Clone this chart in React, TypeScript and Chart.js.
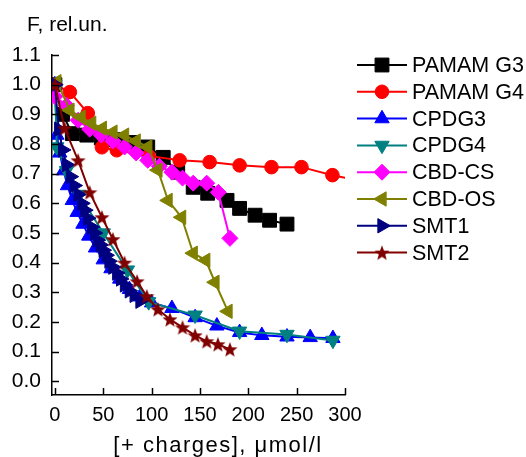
import React, { useEffect, useRef } from "react";
import { Chart, registerables } from "chart.js";

Chart.register(...registerables);

const FONT = '"Liberation Sans", Arial, Helvetica, sans-serif';

// ---- tick labels ----
const xTickValues = [0, 50, 100, 150, 200, 250, 300];
const yTickValues = [0, 0.1, 0.2, 0.3, 0.4, 0.5, 0.6, 0.7, 0.8, 0.9, 1.0, 1.1];

const yTitle = "F, rel.un.";
const xTitle = "[+ charges], \u03bcmol/l";

// ---- series ----
const seriesNames = ["PAMAM G3", "PAMAM G4", "CPDG3", "CPDG4", "CBD-CS", "CBD-OS", "SMT1", "SMT2"];

const pamamG3X = [0, 8, 18, 33, 48, 63, 78, 96, 112, 127, 143, 158, 178, 191, 207, 222, 240];
const pamamG3Y = [1.0, 0.9, 0.835, 0.83, 0.82, 0.815, 0.805, 0.79, 0.755, 0.705, 0.654, 0.634, 0.61, 0.583, 0.56, 0.543, 0.53];

const pamamG4X = [0, 15.5, 34, 48.6, 64, 97, 129, 160, 191, 224, 255, 287, 318];
const pamamG4Y = [1.0, 0.975, 0.904, 0.789, 0.779, 0.76, 0.745, 0.739, 0.728, 0.722, 0.722, 0.695, 0.675];

const cpdg3X = [0, 2, 5, 9, 13, 18, 23, 29, 35, 42, 50, 58, 67, 77, 88, 100, 121, 145, 167.5, 191, 214, 240, 264, 287.5];
const cpdg3Y = [1.0, 0.83, 0.77, 0.71, 0.66, 0.61, 0.57, 0.53, 0.49, 0.45, 0.41, 0.38, 0.345, 0.31, 0.285, 0.265, 0.246, 0.215, 0.187, 0.165, 0.155, 0.15, 0.148, 0.145];

const cpdg4X = [0, 2, 12, 25, 50, 75, 97, 145, 191, 240, 287.5];
const cpdg4Y = [1.0, 0.79, 0.71, 0.63, 0.5, 0.375, 0.268, 0.223, 0.169, 0.158, 0.138];

const cbdCsX = [0, 12, 24, 36, 48, 60, 72, 84, 96, 108, 121, 132, 143, 157, 169, 181];
const cbdCsY = [0.96, 0.93, 0.88, 0.85, 0.83, 0.81, 0.79, 0.77, 0.745, 0.725, 0.705, 0.685, 0.668, 0.668, 0.637, 0.482];

const cbdOsX = [2, 15.5, 27, 38, 49, 60, 72, 84, 96, 106.5, 117, 131, 143, 156, 165.5, 179];
const cbdOsY = [1.01, 0.914, 0.89, 0.87, 0.853, 0.84, 0.83, 0.81, 0.79, 0.712, 0.61, 0.553, 0.432, 0.408, 0.334, 0.236];

const smt1X = [0, 4, 8, 12, 16, 20, 24, 28, 31, 34, 38, 41, 44, 47, 50, 53, 56, 60, 64, 68, 72, 77, 82, 88];
const smt1Y = [1.0, 0.85, 0.78, 0.73, 0.69, 0.66, 0.63, 0.6, 0.577, 0.55, 0.52, 0.5, 0.476, 0.46, 0.442, 0.425, 0.405, 0.385, 0.365, 0.345, 0.325, 0.305, 0.29, 0.27];

const smt2X = [0, 10, 24, 36, 48.6, 60, 72, 85, 95, 106.5, 119, 132, 145, 157, 168.6, 181];
const smt2Y = [1.0, 0.853, 0.745, 0.637, 0.553, 0.479, 0.4, 0.337, 0.287, 0.243, 0.209, 0.182, 0.155, 0.135, 0.125, 0.108];

const seriesX = [pamamG3X, pamamG4X, cpdg3X, cpdg4X, cbdCsX, cbdOsX, smt1X, smt2X];
const seriesY = [pamamG3Y, pamamG4Y, cpdg3Y, cpdg4Y, cbdCsY, cbdOsY, smt1Y, smt2Y];

// ---- styles ----
const seriesColors = ["#000000", "#ff0000", "#0000ff", "#008080", "#ff00ff", "#808000", "#000080", "#800000"];
const seriesMarkers = ["rect", "circle", "triangle", "triangle", "rectRot", "triangle", "triangle", "star"];
const seriesRotation = [0, 0, 0, 180, 0, 270, 90, 0];
const seriesRadius = [9.8, 6.8, 8.3, 8.3, 8, 8.3, 8.3, 8];

function makeStar(size: number, color: string): HTMLCanvasElement {
  const c = document.createElement("canvas");
  c.width = size;
  c.height = size;
  const ctx = c.getContext("2d")!;
  const R = size / 2;
  const r = R * 0.42;
  const cx = size / 2;
  const cy = size / 2 + 0.8;
  ctx.beginPath();
  for (let i = 0; i < 10; i++) {
    const a = -Math.PI / 2 + (i * Math.PI) / 5;
    const rr = i % 2 === 0 ? R : r;
    ctx.lineTo(cx + rr * Math.cos(a), cy + rr * Math.sin(a));
  }
  ctx.closePath();
  ctx.fillStyle = color;
  ctx.fill();
  return c;
}

function drawMarker(
  ctx: CanvasRenderingContext2D,
  style: string,
  rotationDeg: number,
  radius: number,
  x: number,
  y: number,
  color: string,
  star: HTMLCanvasElement
) {
  ctx.save();
  ctx.fillStyle = color;
  ctx.strokeStyle = color;
  ctx.lineWidth = 1;
  if (style === "star") {
    ctx.drawImage(star, x - star.width / 2, y - star.height / 2);
    ctx.restore();
    return;
  }
  ctx.beginPath();
  let rad = (rotationDeg * Math.PI) / 180;
  if (style === "circle") {
    ctx.arc(x, y, radius, 0, Math.PI * 2);
  } else if (style === "rect") {
    const s = Math.SQRT1_2 * radius;
    ctx.rect(x - s, y - s, 2 * s, 2 * s);
  } else if (style === "rectRot") {
    ctx.moveTo(x - radius, y);
    ctx.lineTo(x, y - radius);
    ctx.lineTo(x + radius, y);
    ctx.lineTo(x, y + radius);
  } else if (style === "triangle") {
    ctx.moveTo(x + Math.sin(rad) * radius, y - Math.cos(rad) * radius);
    rad += (2 * Math.PI) / 3;
    ctx.lineTo(x + Math.sin(rad) * radius, y - Math.cos(rad) * radius);
    rad += (2 * Math.PI) / 3;
    ctx.lineTo(x + Math.sin(rad) * radius, y - Math.cos(rad) * radius);
  }
  ctx.closePath();
  ctx.fill();
  ctx.stroke();
  ctx.restore();
}

export default function App() {
  const canvasRef = useRef<HTMLCanvasElement | null>(null);

  useEffect(() => {
    const canvas = canvasRef.current;
    if (!canvas) return;
    const star = makeStar(16, seriesColors[7]);

    const datasets = seriesNames.map((name, i) => ({
      label: name,
      data: seriesX[i].map((x, j) => ({ x, y: seriesY[i][j] })),
      borderColor: seriesColors[i],
      backgroundColor: seriesColors[i],
      borderWidth: 2,
      pointStyle: seriesMarkers[i] === "star" ? (star as any) : seriesMarkers[i],
      pointRotation: seriesRotation[i],
      pointRadius: seriesRadius[i],
      pointBorderWidth: 1,
      pointBackgroundColor: seriesColors[i],
      pointBorderColor: seriesColors[i],
      tension: 0,
      order: seriesNames.length - i,
    }));

    const overlay = {
      id: "overlay",
      afterDraw(chart: any) {
        const { ctx, chartArea, scales } = chart;
        ctx.save();
        ctx.strokeStyle = "#000";
        ctx.lineWidth = 1.5;
        for (const v of xTickValues) {
          const px = Math.round(scales.x.getPixelForValue(v)) + 0.5;
          ctx.beginPath();
          ctx.moveTo(px, chartArea.bottom);
          ctx.lineTo(px, chartArea.bottom - 7);
          ctx.stroke();
        }
        for (const v of yTickValues) {
          const py = Math.round(scales.y.getPixelForValue(v)) + 0.5;
          ctx.beginPath();
          ctx.moveTo(chartArea.left, py);
          ctx.lineTo(chartArea.left + 7, py);
          ctx.stroke();
        }
        ctx.fillStyle = "#000";
        ctx.font = `21px ${FONT}`;
        ctx.textBaseline = "middle";
        ctx.textAlign = "left";
        ctx.fillText(yTitle, 27, 25);

        ctx.font = `22px ${FONT}`;
        ctx.textAlign = "center";
        (ctx as any).letterSpacing = "1.5px";
        ctx.fillText(xTitle, 218, 446);
        (ctx as any).letterSpacing = "0px";

        // legend
        const lx0 = 357;
        const lx1 = 407;
        chart.data.datasets.forEach((ds: any, i: number) => {
          const y = 65 + i * 26.8;
          ctx.strokeStyle = seriesColors[i];
          ctx.lineWidth = 2;
          ctx.beginPath();
          ctx.moveTo(lx0, y);
          ctx.lineTo(lx1, y);
          ctx.stroke();
          drawMarker(ctx, seriesMarkers[i], seriesRotation[i], seriesRadius[i], (lx0 + lx1) / 2, y, seriesColors[i], star);
          ctx.fillStyle = "#000";
          ctx.textAlign = "left";
          ctx.font = `21.5px ${FONT}`;
          ctx.fillText(ds.label, 412, y + 1);
        });
        ctx.restore();
      },
    };

    const chart = new Chart(canvas, {
      type: "line",
      data: { datasets: datasets as any },
      options: {
        animation: false,
        responsive: false,
        maintainAspectRatio: false,
        layout: { padding: { top: 55, right: 181, left: 0, bottom: 0 } },
        plugins: {
          legend: { display: false },
          title: { display: false },
          tooltip: { enabled: false },
        },
        scales: {
          x: {
            type: "linear",
            min: -3,
            max: 300,
            afterBuildTicks: (scale: any) => {
              scale.ticks = xTickValues.map((v) => ({ value: v }));
            },
            afterFit: (scale: any) => {
              scale.height = 62;
            },
            grid: { display: false, drawTicks: false },
            border: { display: true, color: "#000", width: 1.5 },
            ticks: {
              padding: 8,
              color: "#000",
              font: { family: FONT, size: 20 },
              maxRotation: 0,
              autoSkip: false,
              callback: (v: any) => String(v),
            },
          },
          y: {
            type: "linear",
            min: -0.046,
            max: 1.1,
            afterBuildTicks: (scale: any) => {
              scale.ticks = yTickValues.map((v) => ({ value: v }));
            },
            afterFit: (scale: any) => {
              scale.width = 52;
            },
            grid: { display: false, drawTicks: false },
            border: { display: true, color: "#000", width: 1.5 },
            ticks: {
              padding: 11,
              color: "#000",
              font: { family: FONT, size: 21 },
              autoSkip: false,
              callback: (v: any) => Number(v).toFixed(1),
            },
          },
        },
      },
      plugins: [overlay],
    });

    return () => {
      chart.destroy();
    };
  }, []);

  return (
    <div style={{ position: "fixed", left: 0, top: 0, width: 526, height: 457, background: "#fff" }}>
      <canvas ref={canvasRef} width={526} height={457} style={{ display: "block", width: 526, height: 457 }} />
    </div>
  );
}
